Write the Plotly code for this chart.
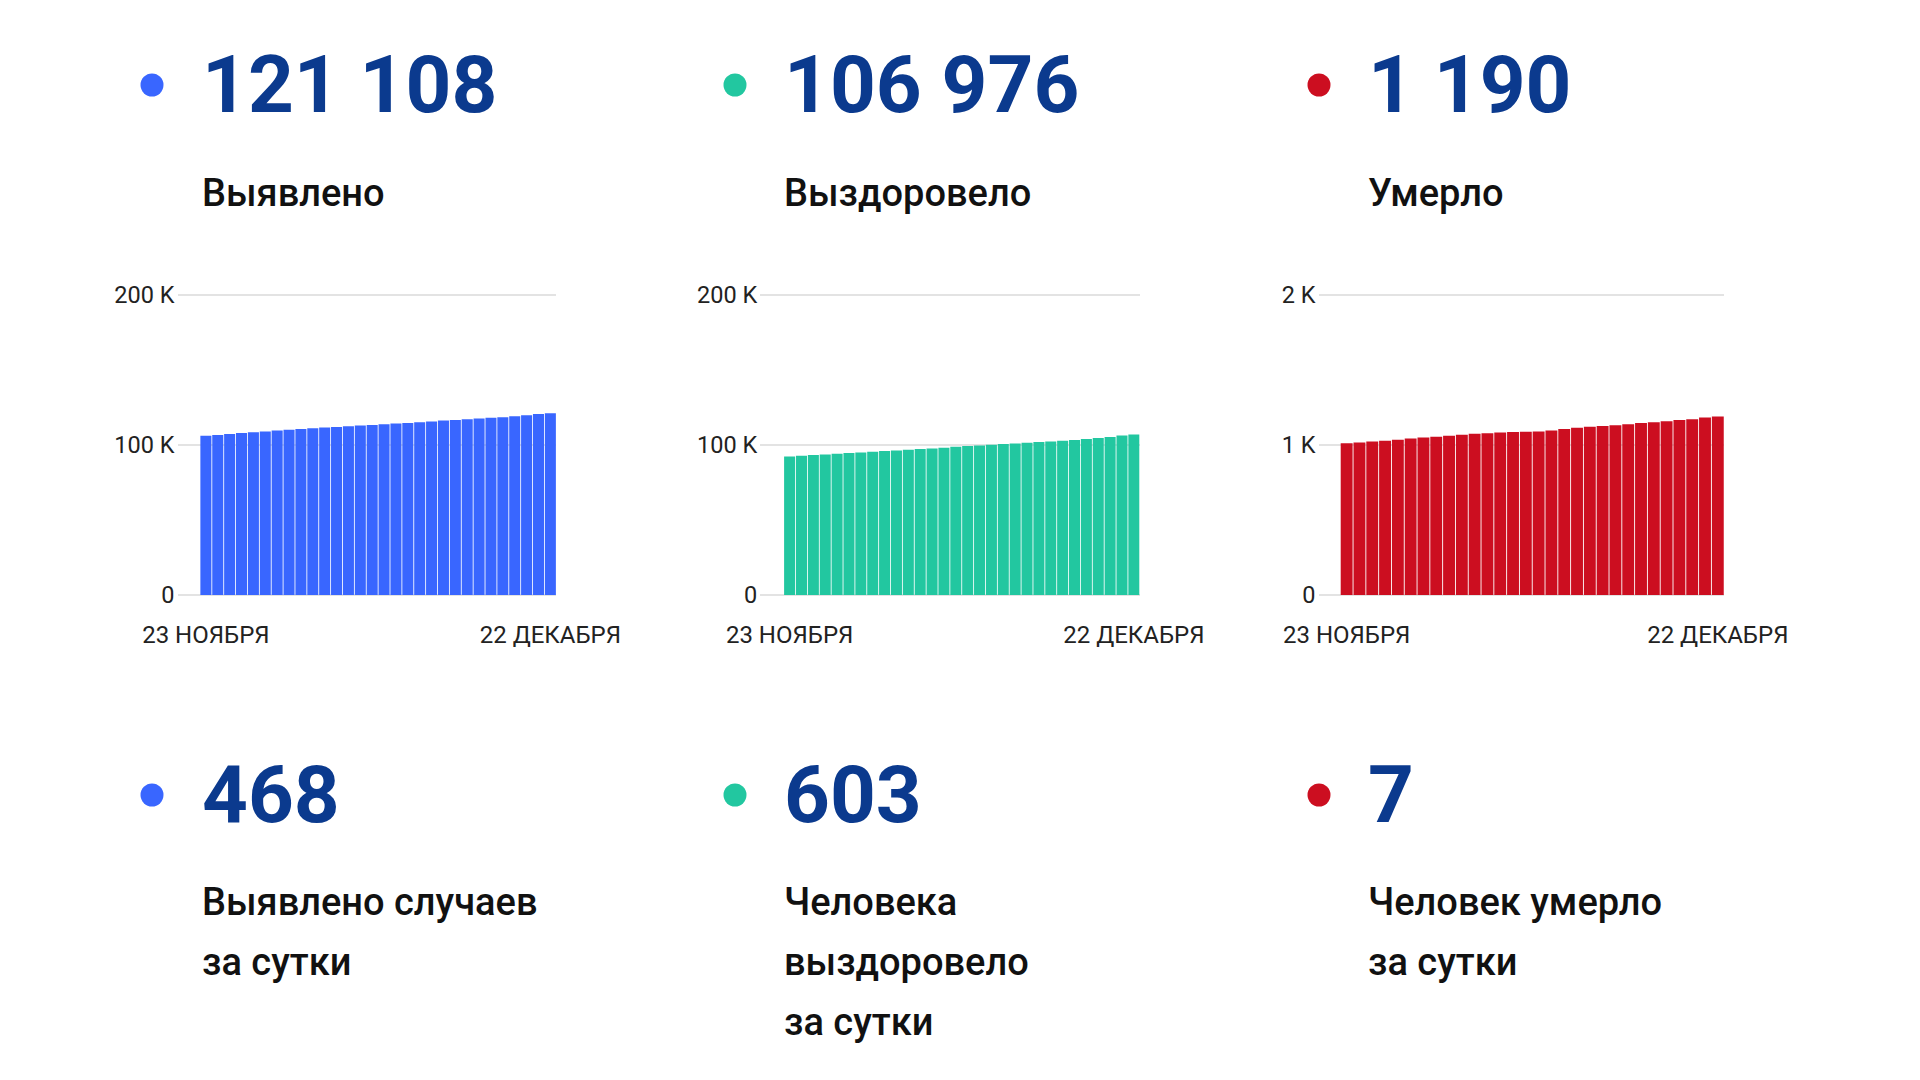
import plotly.graph_objects as go

# ---- data ----
dates = ["2020-11-%02d" % d for d in range(23, 31)] + ["2020-12-%02d" % d for d in range(1, 23)]
x_tick_labels = ["23 НОЯБРЯ", "22 ДЕКАБРЯ"]

detected = [106100, 106700, 107400, 108050, 108500, 108950, 109600, 110250, 110700, 111150,
            111600, 112050, 112500, 112950, 113400, 113850, 114300, 114750, 115200, 115650,
            116300, 116750, 117200, 117650, 118100, 118550, 119200, 119850, 120640, 121108]
recovered = [92380, 92820, 93270, 93710, 94160, 94600, 95040, 95490, 95930, 96380,
             96820, 97270, 97710, 98160, 98820, 99270, 99710, 100160, 100600, 101040,
             101490, 101930, 102380, 102820, 103270, 103930, 104600, 105270, 106373, 106976]
died = [1012, 1017, 1024, 1028, 1035, 1044, 1050, 1055, 1061, 1068,
        1075, 1079, 1084, 1086, 1088, 1090, 1097, 1106, 1115, 1121,
        1126, 1132, 1139, 1146, 1152, 1159, 1166, 1172, 1183, 1190]

totals_text = ["121 108", "106 976", "1 190"]
totals_labels = ["Выявлено", "Выздоровело", "Умерло"]
daily_text = ["468", "603", "7"]
daily_labels = [["Выявлено случаев", "за сутки"],
                ["Человека", "выздоровело", "за сутки"],
                ["Человек умерло", "за сутки"]]

y_ticks_big = [0, 100000, 200000]
y_ticktext_big = ["0", "100 K", "200 K"]
y_ticks_small = [0, 1000, 2000]
y_ticktext_small = ["0", "1 K", "2 K"]

colors = ["#3966FF", "#22C7A0", "#CC0E20"]
NUM_COLOR = "#0B3A8E"
TXT_COLOR = "#111111"
FONT = "Roboto"

# the page body has an 8px margin: the figure fills the rest of the 1920x1080 window
OFF = 8
W, H = 1920 - OFF, 1080 - OFF

def px_x(v):
    return (v - OFF) / W

def px_y(v):
    return 1 - (v - OFF) / H

fig = go.Figure()

series = [detected, recovered, died]
plot_px = [(177.5, 556.3), (760.3, 1139.8), (1318.5, 1724.2)]
x_ranges = [[-2.39, 29.5], [-2.47, 29.5], [-2.2, 29.5]]
EXT = 0.004
y_specs = [(y_ticks_big, y_ticktext_big, 200000),
           (y_ticks_big, y_ticktext_big, 200000),
           (y_ticks_small, y_ticktext_small, 2000)]
y_top, y_bot = 295, 595
pad_px = (y_bot - y_top) * EXT

for i in range(3):
    suffix = "" if i == 0 else str(i + 1)
    fig.add_trace(go.Bar(x=dates, y=series[i], marker=dict(color=colors[i], line=dict(width=0)),
                         xaxis="x" + suffix, yaxis="y" + suffix, hoverinfo="x+y"))
    x0, x1 = plot_px[i]
    tv, tt, top = y_specs[i]
    fig.update_layout(**{
        "xaxis" + suffix: dict(domain=[px_x(x0), px_x(x1)], type="category", range=x_ranges[i],
                               tickmode="array", tickvals=[dates[0], dates[-1]], ticktext=x_tick_labels,
                               showgrid=False, zeroline=False, showline=False, ticks="",
                               tickfont=dict(family=FONT, size=24, color="#222222"),
                               ticklabelstandoff=22, anchor="y" + suffix, fixedrange=True,
                               automargin=False),
        "yaxis" + suffix: dict(domain=[px_y(y_bot + pad_px), px_y(y_top - pad_px)],
                               range=[-top * EXT, top * (1 + EXT)], tickmode="array",
                               tickvals=tv, ticktext=tt, showgrid=True, gridcolor="#E3E3E3",
                               gridwidth=2, zeroline=False, showline=False, ticks="",
                               tickfont=dict(family=FONT, size=23.5, color="#222222"),
                               ticklabelstandoff=2, anchor="x" + suffix, fixedrange=True,
                               automargin=False),
    })

annotations = []
shapes = []
col_text_x = [200, 782, 1366]
col_dot_x = [152, 735, 1319]
R = 11.5
for i in range(3):
    for cy in (85, 795):
        shapes.append(dict(type="circle", xref="paper", yref="paper",
                           x0=px_x(col_dot_x[i] - R), x1=px_x(col_dot_x[i] + R),
                           y0=px_y(cy + R), y1=px_y(cy - R),
                           fillcolor=colors[i], line=dict(width=0)))
    annotations.append(dict(x=px_x(col_text_x[i]), y=px_y(84.5), xref="paper", yref="paper",
                            text=totals_text[i], showarrow=False, xanchor="left", yanchor="middle",
                            font=dict(family=FONT, size=80, color=NUM_COLOR, weight=700)))
    annotations.append(dict(x=px_x(col_text_x[i]), y=px_y(193.3), xref="paper", yref="paper",
                            text=totals_labels[i], showarrow=False, xanchor="left", yanchor="middle",
                            font=dict(family=FONT, size=38, color=TXT_COLOR, weight=500)))
    annotations.append(dict(x=px_x(col_text_x[i]), y=px_y(794.5), xref="paper", yref="paper",
                            text=daily_text[i], showarrow=False, xanchor="left", yanchor="middle",
                            font=dict(family=FONT, size=80, color=NUM_COLOR, weight=700)))
    for j, line in enumerate(daily_labels[i]):
        annotations.append(dict(x=px_x(col_text_x[i]), y=px_y(902.5 + j * 59.7), xref="paper",
                                yref="paper", text=line, showarrow=False, xanchor="left",
                                yanchor="middle",
                                font=dict(family=FONT, size=38, color=TXT_COLOR, weight=500)))

fig.update_layout(width=W, height=H, margin=dict(l=0, r=0, t=0, b=0, autoexpand=False),
                  paper_bgcolor="white", plot_bgcolor="white", showlegend=False,
                  bargap=0.07, annotations=annotations, shapes=shapes,
                  font=dict(family=FONT))

fig.write_html("out.html", config={"displayModeBar": False})
